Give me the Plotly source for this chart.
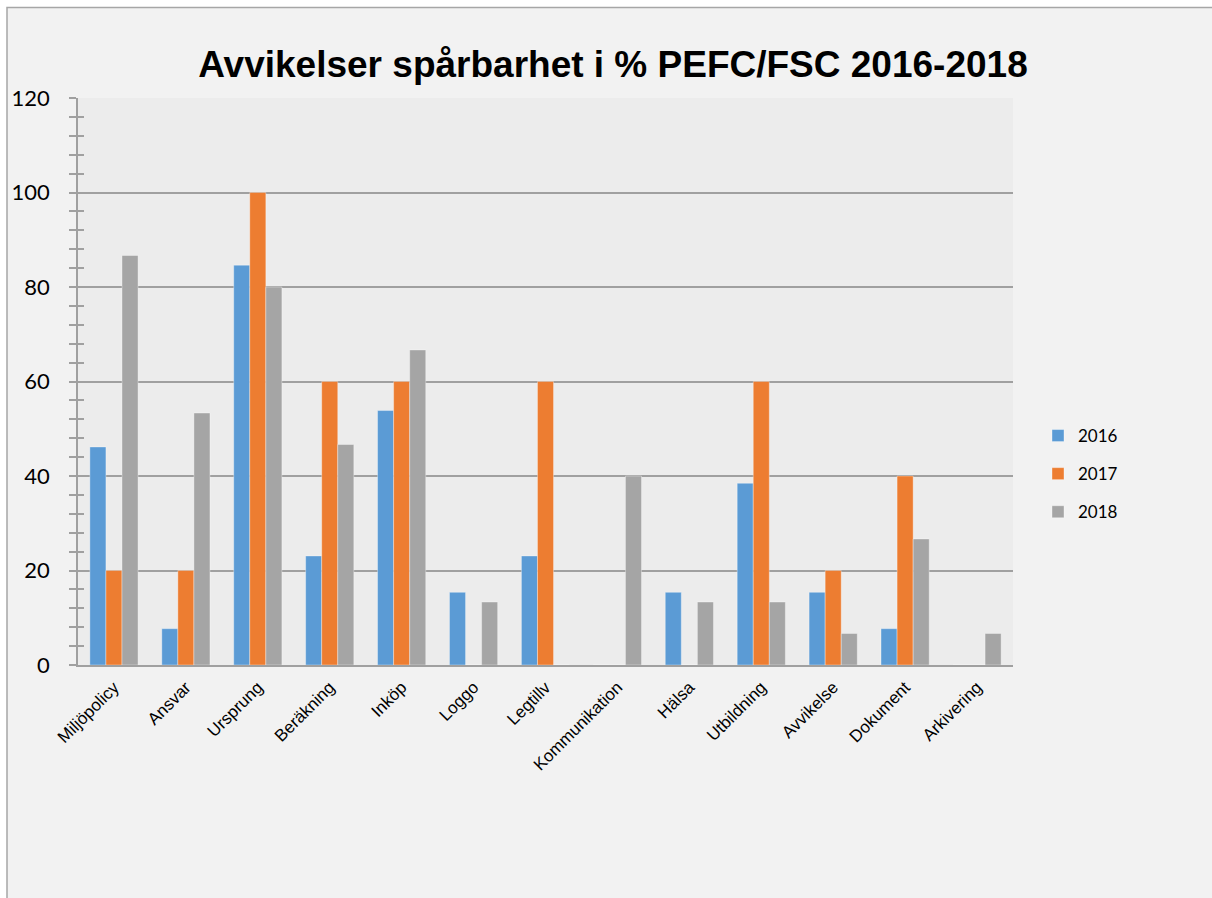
import plotly.graph_objects as go

categories = ["Miljöpolicy", "Ansvar", "Ursprung", "Beräkning", "Inköp", "Loggo", "Legtillv",
              "Kommunikation", "Hälsa", "Utbildning", "Avvikelse", "Dokument", "Arkivering"]
years = ["2016", "2017", "2018"]
values_2016 = [46.15, 7.69, 84.62, 23.08, 53.85, 15.38, 23.08, 0, 15.38, 38.46, 15.38, 7.69, 0]
values_2017 = [20, 20, 100, 60, 60, 0, 60, 0, 0, 60, 20, 40, 0]
values_2018 = [86.67, 53.33, 80, 46.67, 66.67, 13.33, 0, 40, 13.33, 13.33, 6.67, 26.67, 6.67]
colors = ["#5b9bd5", "#ed7d31", "#a5a5a5"]
title_text = "Avvikelser spårbarhet i % PEFC/FSC 2016-2018"

W, H = 1212, 898
L, R, T, B = 78, 199, 98, 233
PW, PH = W - L - R, H - T - B
GRAY = "#a0a0a0"

def px_x(px):
    return (px - L) / PW

def px_y(py):
    return (H - B - py) / PH

fig = go.Figure()
for name, vals, col in zip(years, [values_2016, values_2017, values_2018], colors):
    fig.add_trace(go.Bar(
        x=categories, y=vals, name=name, legendgroup=name,
        marker=dict(color=col, line=dict(color="rgba(255,255,255,0.35)", width=1)),
    ))

# helper overlay axis for the inward half of the crossing ticks
fig.add_trace(go.Scatter(x=[], y=[], yaxis="y2", showlegend=False, hoverinfo="skip"))

fig.update_layout(
    width=W, height=H,
    margin=dict(l=L, r=R, t=T, b=B),
    paper_bgcolor="white",
    plot_bgcolor="rgba(0,0,0,0)",
    barmode="group", bargap=0.33, bargroupgap=0,
    title=dict(text=title_text, x=613 / W, xref="container", xanchor="center",
               y=1 - 64 / H, yanchor="middle",
               font=dict(family="Liberation Sans, Arial", size=37, color="black", weight="bold")),
    xaxis=dict(type="category", tickangle=-45, showgrid=False, zeroline=False,
               showline=True, linecolor=GRAY, linewidth=1.5, ticks="",
               ticklabelstandoff=4,
               tickfont=dict(family="Liberation Sans, Arial", size=17, color="black"),
               fixedrange=True),
    yaxis=dict(range=[0, 120], tick0=0, dtick=20, showgrid=True, gridcolor=GRAY, gridwidth=1.5,
               zeroline=False, showline=True, linecolor=GRAY, linewidth=1.5,
               ticks="outside", ticklen=7, tickwidth=1.5, tickcolor=GRAY,
               minor=dict(dtick=4, tick0=0, ticks="outside", ticklen=7, tickwidth=1.5,
                          tickcolor=GRAY, showgrid=False),
               ticklabelstandoff=15,
               tickfont=dict(family="Lato, Calibri, sans-serif", size=22, color="black"),
               fixedrange=True),
    yaxis2=dict(overlaying="y", side="left", range=[0, 120], tick0=0, dtick=20,
                ticks="inside", ticklen=6, tickwidth=1.5, tickcolor=GRAY,
                minor=dict(dtick=4, tick0=0, ticks="inside", ticklen=6, tickwidth=1.5,
                           tickcolor=GRAY, showgrid=False),
                showticklabels=False, showgrid=False, zeroline=False, showline=False,
                fixedrange=True),
    legend=dict(x=px_x(1038), y=px_y(474), xanchor="left", yanchor="middle",
                bgcolor="rgba(0,0,0,0)", tracegroupgap=13,
                font=dict(family="Lato, Calibri, sans-serif", size=17, color="black")),
    shapes=[
        dict(type="rect", xref="paper", yref="paper", layer="below",
             x0=px_x(7), x1=px_x(W + 10), y0=px_y(H + 10), y1=px_y(7.5),
             fillcolor="#f2f2f2", line=dict(color="#a6a6a6", width=1.5)),
        dict(type="rect", xref="paper", yref="paper", layer="below",
             x0=0, x1=1, y0=0, y1=1, fillcolor="#ececec", line=dict(width=0)),
    ],
    showlegend=True,
)

fig.write_html(
    "out.html",
    config={"displayModeBar": False},
    post_script="document.body.style.margin='0';document.body.style.overflow='hidden';",
)
